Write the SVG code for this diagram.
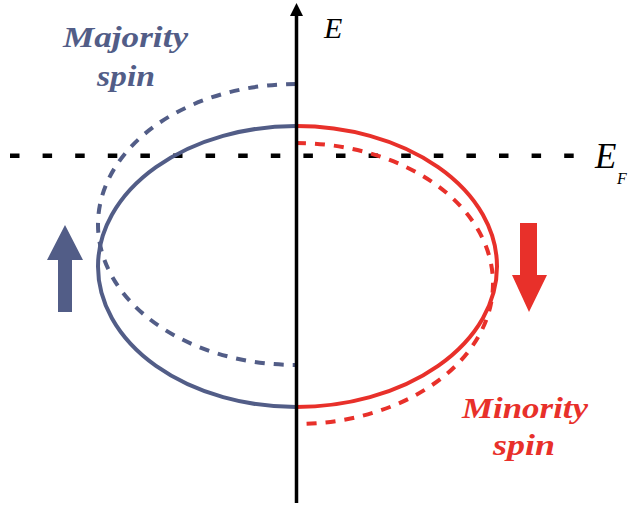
<svg xmlns="http://www.w3.org/2000/svg" width="630" height="508" viewBox="0 0 630 508">
<style>
.blue{stroke:#525D87;fill:none;stroke-width:4}
.red{stroke:#E8302A;fill:none;stroke-width:4}
.dash{stroke-dasharray:10 9}
.lbl{font-family:"Liberation Serif","Times New Roman",serif;font-style:italic;font-weight:bold;font-size:30px}
.sym{font-family:"Liberation Serif","Times New Roman",serif;font-style:italic}
</style>
<rect width="630" height="508" fill="#fff"/>
<g id="fermi-level">
<line x1="10" y1="155.7" x2="575" y2="155.7" stroke="#000" stroke-width="4.5" stroke-dasharray="9.5 23.1"/>
</g>
<g id="bands">
<path class="blue dash" d="M296,84 A198,140.5 0 0 0 296,365"/>
<path class="red dash" d="M296,143 A197,140.5 0 0 1 296,424"/>
<path class="blue" d="M296,126 A198,140.5 0 0 0 296,407"/>
<path class="red" d="M296,126 A201,140.5 0 0 1 296,407"/>
</g>
<g id="energy-axis">
<line x1="296.5" y1="14" x2="296.5" y2="503" stroke="#000" stroke-width="3.5"/>
<polygon points="296.5,3 303,16 290,16" fill="#000"/>
</g>
<g id="label-E">
<text class="sym" x="324" y="38" font-size="30">E</text>
</g>
<g id="label-EF">
<text class="sym" x="595" y="168" font-size="35">E</text>
<text class="sym" x="617" y="184" font-size="16">F</text>
</g>
<g id="majority">
<text class="lbl" fill="#525D87" x="63" y="47" textLength="125" lengthAdjust="spacingAndGlyphs">Majority</text>
<text class="lbl" fill="#525D87" x="97" y="86" textLength="58" lengthAdjust="spacingAndGlyphs">spin</text>
<polygon id="up-arrow" points="65,225 83,260 72,260 72,312 58,312 58,260 47,260" fill="#525D87"/>
</g>
<g id="minority">
<text class="lbl" fill="#E8302A" x="462" y="418" textLength="126" lengthAdjust="spacingAndGlyphs">Minority</text>
<text class="lbl" fill="#E8302A" x="493" y="455" textLength="62" lengthAdjust="spacingAndGlyphs">spin</text>
<polygon id="down-arrow" points="529,312 547,275 537,275 537,223 520,223 520,275 512,275" fill="#E8302A"/>
</g>
</svg>
